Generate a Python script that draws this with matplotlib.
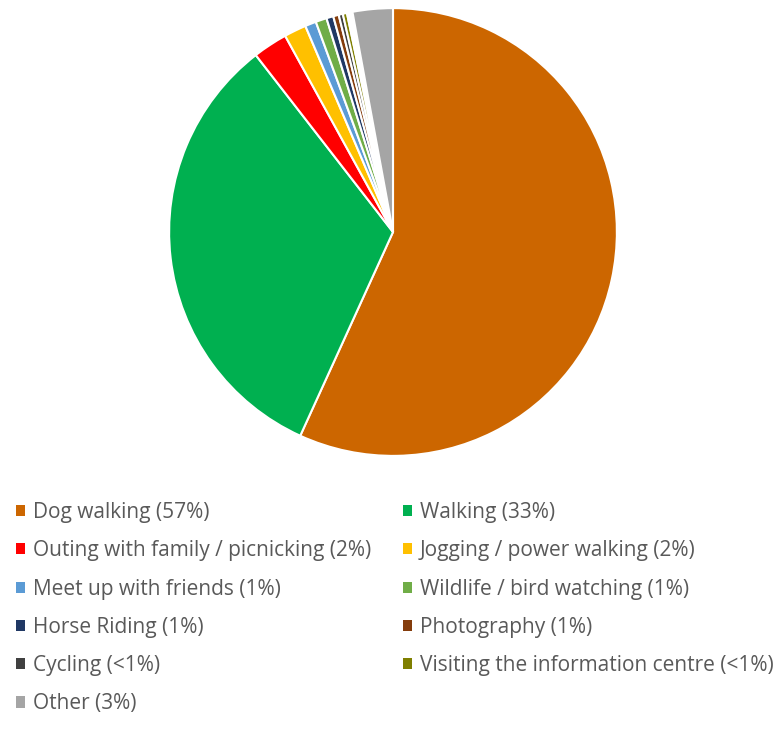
import matplotlib.pyplot as plt
from matplotlib.patches import Patch

labels = ['Dog walking (57%)', 'Walking (33%)', 'Outing with family / picnicking (2%)',
          'Jogging / power walking (2%)', 'Meet up with friends (1%)', 'Wildlife / bird watching (1%)',
          'Horse Riding (1%)', 'Photography (1%)', 'Cycling (<1%)',
          'Visiting the information centre (<1%)', '', 'Other (3%)']
values = [56.8, 32.7, 2.5, 1.6, 0.8, 0.8, 0.5, 0.4, 0.3, 0.3, 0.4, 2.9]
colors = ['#CC6600', '#00B050', '#FF0000', '#FFC000', '#5B9BD5', '#70AD47',
          '#203864', '#843C0C', '#404040', '#7F7F00', '#FFFFFF', '#A5A5A5']

W, H = 781, 747
fig = plt.figure(figsize=(W / 100, H / 100), dpi=100)
cx, cy, r = 393, 232, 225
ax = fig.add_axes([(cx - r) / W, 1 - (cy + r) / H, 2 * r / W, 2 * r / H])
ax.pie(values, colors=colors, startangle=90, counterclock=False, radius=1,
       wedgeprops=dict(edgecolor='white', linewidth=1.5))
ax.set_xlim(-1.005, 1.005)
ax.set_ylim(-1.005, 1.005)
ax.axis('off')

# legend: two columns, row-wise order like the original
items = [(l, c) for l, c in zip(labels, colors) if l]
left = items[0::2]
right = items[1::2]

def add_legend(entries, x):
    handles = [Patch(facecolor=c, edgecolor='none', label=l) for l, c in entries]
    leg = fig.legend(handles=handles, loc='upper left', bbox_to_anchor=(x / W, 1 - 502 / H),
                     frameon=False, handlelength=0.45, handleheight=0.45, handletextpad=0.36,
                     labelspacing=0.83, borderpad=0, borderaxespad=0,
                     prop=dict(family='Open Sans', size=15))
    for t in leg.get_texts():
        t.set_color('#595959')
    return leg

add_legend(left, 16)
add_legend(right, 403)

fig.savefig('out.png', dpi=100, facecolor='white')
